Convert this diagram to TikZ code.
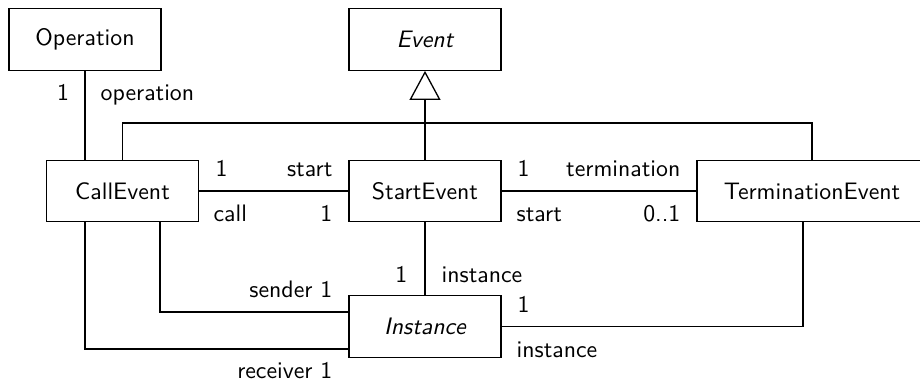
\documentclass[tikz,border=0pt]{standalone}
\usepackage{amsmath,amssymb}
\usepackage{tikz}
\usetikzlibrary{arrows.meta, positioning}

\tikzset{
	class/.style={draw, minimum width=63.8pt, minimum height=25.8pt, inner sep=0pt},
	role/.style={inner sep=0pt},
	gen/.style={-{Triangle[open, length=12.2pt, width=13pt]}}
}

\begin{document}
\begin{tikzpicture}[x=0.42pt, y=-0.42pt, font=\sffamily, line width=0.55pt]
			\useasboundingbox (0,0) rectangle (920,385);
			% classes
			\node[class] (op) at (85,39.5) {Operation};
			\node[class] (event) at (425,39.5) {\itshape Event};
			\node[class] (call) at (122.5,191) {CallEvent};
			\node[class] (start) at (425,191) {StartEvent};
			\node[class, minimum width=96.6pt] (term) at (812,191) {TerminationEvent};
			\node[class] (inst) at (425,326.5) {\itshape Instance};
			% generalization
			\coordinate (g) at (425,123);
			\draw[gen] (start) -- (event);
			\draw (call.north) |- (g) -| (term.north);
			% associations
			\draw (op) -- (op.south |- call.north);
			\draw (call) -- (start);
			\draw (start) -- (term);
			\draw (start) -- (inst);
			\draw ([xshift=15.75pt]call.south) |- ([yshift=6.1pt]inst.west);
			\draw ([xshift=-15.75pt]call.south) |- ([yshift=-9.45pt]inst.west);
			\draw ([xshift=-3.8pt]term.south) |- (inst.east);
			% roles and multiplicities
			\node[role, anchor=base] (m1) at (63,100) {1};
			\node[role, anchor=base west] (r1) at (100,100) {operation};
			\node[role, anchor=base west] (m2) at (215,176) {1};
			\node[role, anchor=base east] (r2) at (333,176) {start};
			\node[role, anchor=base west] (r3) at (213,221) {call};
			\node[role, anchor=base east] (m3) at (333,221) {1};
			\node[role, anchor=base west] (m4) at (517,176) {1};
			\node[role, anchor=base east] (r4) at (681,176) {termination};
			\node[role, anchor=base west] (r5) at (516,221) {start};
			\node[role, anchor=base east] (m5) at (681,221) {0..1};
			\node[role, anchor=base east] (m6) at (408,282) {1};
			\node[role, anchor=base west] (r6) at (441,282) {instance};
			\node[role, anchor=base east] (r7) at (333,297) {sender 1};
			\node[role, anchor=base east] (r8) at (333,378) {receiver 1};
			\node[role, anchor=base west] (m7) at (517,312) {1};
			\node[role, anchor=base west] (r9) at (516,357) {instance};
		\end{tikzpicture}
\end{document}
